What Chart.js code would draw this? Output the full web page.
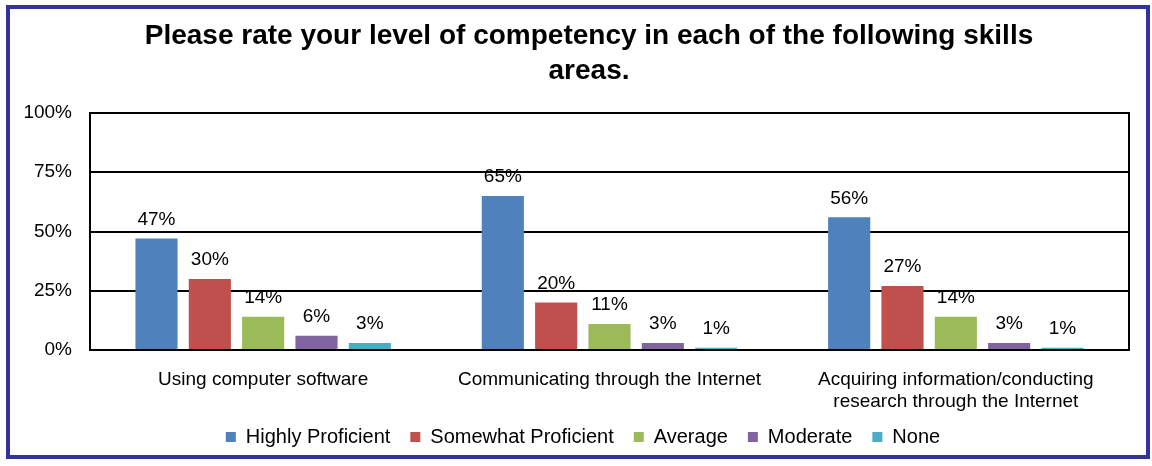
<!DOCTYPE html>
<html>
<head>
<meta charset="utf-8">
<script src="https://cdn.jsdelivr.net/npm/chart.js@4/dist/chart.umd.min.js"></script>
<style>
  html, body { margin: 0; padding: 0; background: #fff; }
  #wrap { position: relative; width: 1152px; height: 466px; }
</style>
</head>
<body>
<div id="wrap"><canvas id="c" width="1152" height="466"></canvas></div>
<script>
// Survey results: self-rated competency per skill area (percent of respondents)
const titleLines = ['Please rate your level of competency in each of the following skills', 'areas.'];
const categories = [
  'Using computer software',
  'Communicating through the Internet',
  ['Acquiring information/conducting', 'research through the Internet']
];
const seriesNames = ['Highly Proficient', 'Somewhat Proficient', 'Average', 'Moderate', 'None'];
const highlyProficient   = [47, 65, 56];
const somewhatProficient = [30, 20, 27];
const average            = [14, 11, 14];
const moderate           = [6, 3, 3];
const none               = [3, 1, 1];
const yTicks = [0, 25, 50, 75, 100];

const seriesValues = [highlyProficient, somewhatProficient, average, moderate, none];
const seriesColors = ['#4F81BD', '#C0504D', '#9BBB59', '#8064A2', '#4BACC6'];

const FONT = "'Liberation Sans', Arial, sans-serif";

// Let tick labels spill outside their scale box instead of being clipped
const unclipLabels = scale => { scale._computeLabelArea = () => undefined; };

// Outer frame, chart title, plot box and value labels
const decorations = {
  id: 'decorations',
  beforeDraw(chart) {
    const ctx = chart.ctx;
    ctx.save();
    ctx.fillStyle = '#fff';
    ctx.fillRect(0, 0, chart.width, chart.height);
    ctx.restore();
  },
  afterDraw(chart) {
    const ctx = chart.ctx;
    const a = chart.chartArea;
    ctx.save();
    // plot box
    ctx.strokeStyle = '#000';
    ctx.lineWidth = 2;
    ctx.strokeRect(a.left, a.top, a.right - a.left, a.bottom - a.top);
    // outer frame
    ctx.strokeStyle = '#333399';
    ctx.lineWidth = 4;
    ctx.strokeRect(8, 7, chart.width - 12, 450);
    // title
    ctx.fillStyle = '#000';
    ctx.font = 'bold 28px ' + FONT;
    ctx.textAlign = 'center';
    ctx.textBaseline = 'middle';
    titleLines.forEach((t, i) => ctx.fillText(t, 589, 36 + i * 35));
    // value labels above bars
    ctx.font = '19px ' + FONT;
    chart.data.datasets.forEach((ds, di) => {
      const meta = chart.getDatasetMeta(di);
      meta.data.forEach((bar, i) => {
        ctx.fillText(ds.data[i] + '%', bar.x, bar.y - 19);
      });
    });
    ctx.restore();
  }
};

new Chart(document.getElementById('c'), {
  type: 'bar',
  data: {
    labels: categories,
    datasets: seriesNames.map((name, i) => ({
      label: name,
      data: seriesValues[i],
      backgroundColor: seriesColors[i],
      borderWidth: 0,
      barPercentage: 0.79,
      categoryPercentage: 0.77
    }))
  },
  options: {
    responsive: false,
    animation: false,
    layout: { padding: { top: 113, left: 37, right: 23, bottom: 9 } },
    plugins: {
      title: { display: false },
      tooltip: { enabled: false },
      legend: {
        position: 'bottom',
        fullSize: true,
        maxHeight: 50,
        labels: {
          boxWidth: 10,
          boxHeight: 10,
          padding: 20,
          color: '#000',
          font: { family: FONT, size: 20, lineHeight: 1.2 }
        }
      }
    },
    scales: {
      x: {
        grid: { display: false, drawTicks: false },
        border: { display: true, color: '#000', width: 2 },
        ticks: {
          color: '#000',
          padding: 19,
          maxRotation: 0,
          autoSkip: false,
          font: { family: FONT, size: 19, lineHeight: 1.16 }
        },
        afterFit(scale) { scale.height = 57; unclipLabels(scale); }
      },
      y: {
        min: 0,
        max: 100,
        afterBuildTicks(scale) { scale.ticks = yTicks.map(v => ({ value: v })); },
        grid: { color: '#000', lineWidth: 2, drawTicks: false },
        border: { display: true, color: '#000', width: 2 },
        ticks: {
          color: '#000',
          padding: 18,
          font: { family: FONT, size: 19 },
          callback: v => v + '%'
        },
        afterFit(scale) { scale.width = 53; unclipLabels(scale); }
      }
    }
  },
  plugins: [decorations]
});
</script>
</body>
</html>
